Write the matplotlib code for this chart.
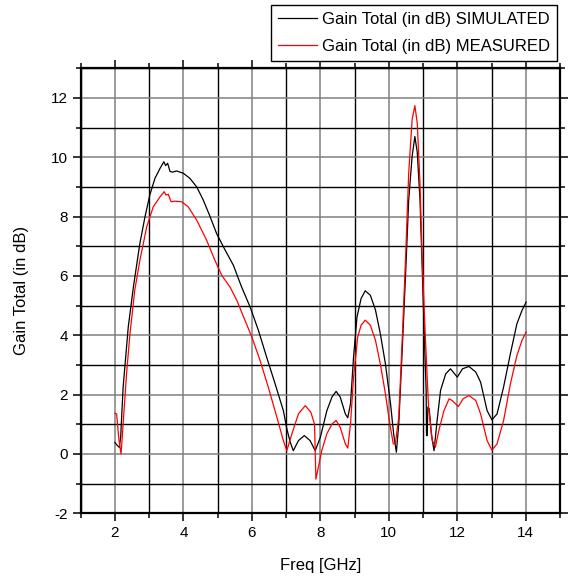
import numpy as np
import matplotlib
matplotlib.use("Agg")
import matplotlib.pyplot as plt
from matplotlib.ticker import MultipleLocator

plt.rcParams['font.family'] = ['Liberation Sans', 'DejaVu Sans']
plt.rcParams['axes.unicode_minus'] = False

# simulated gain (black)
sim_f = [2.00, 2.06, 2.13, 2.17, 2.24, 2.39, 2.54, 2.73, 2.88, 3.02, 3.17, 3.32, 3.43, 3.48,
         3.54, 3.61, 3.69, 3.80, 4.00, 4.19, 4.39, 4.58, 4.78, 4.97, 5.22, 5.46, 5.70, 5.95,
         6.19, 6.43, 6.68, 6.92, 7.02, 7.12, 7.21, 7.36, 7.53, 7.70, 7.85, 8.00, 8.19, 8.34,
         8.46, 8.58, 8.73, 8.80, 8.88, 8.97, 9.07, 9.19, 9.31, 9.46, 9.61, 9.75, 9.90, 10.05,
         10.14, 10.22, 10.29, 10.39, 10.49, 10.58, 10.68, 10.76, 10.83, 10.91, 10.97, 11.04,
         11.09, 11.10, 11.12, 11.14, 11.18, 11.24, 11.32, 11.41, 11.51, 11.66, 11.80, 12.00,
         12.15, 12.34, 12.54, 12.68, 12.87, 13.01, 13.16, 13.35, 13.55, 13.74, 13.89, 14.01]
sim_g = [0.39, 0.30, 0.22, 0.60, 2.25, 4.28, 5.63, 7.10, 8.00, 8.73, 9.29, 9.63, 9.85, 9.72,
         9.80, 9.52, 9.50, 9.54, 9.46, 9.29, 9.00, 8.56, 8.00, 7.43, 6.87, 6.36, 5.63, 4.95,
         4.17, 3.27, 2.36, 1.46, 0.85, 0.40, 0.11, 0.45, 0.62, 0.45, 0.11, 0.56, 1.46, 1.92,
         2.11, 1.92, 1.35, 1.22, 1.69, 3.27, 4.62, 5.24, 5.50, 5.35, 4.85, 4.06, 3.04, 1.69,
         0.68, 0.06, 1.01, 3.49, 6.08, 8.56, 10.03, 10.70, 10.17, 8.56, 6.42, 3.83,
         2.14, 0.62, 0.62, 1.58, 1.52, 0.68, 0.11, 1.13, 2.14, 2.70, 2.87, 2.59,
         2.87, 2.95, 2.76, 2.42, 1.46, 1.15, 1.35, 2.25, 3.38, 4.39, 4.84, 5.12]

# measured gain (red)
meas_f = [2.00, 2.05, 2.12, 2.18, 2.24, 2.34, 2.44, 2.58, 2.73, 2.93, 3.12, 3.32, 3.44, 3.49,
          3.56, 3.64, 3.75, 3.95, 4.14, 4.39, 4.68, 4.92, 5.12, 5.36, 5.56, 5.80, 6.00, 6.24,
          6.48, 6.73, 6.92, 7.02, 7.17, 7.36, 7.56, 7.72, 7.83, 7.87, 8.04, 8.19, 8.34, 8.46,
          8.58, 8.73, 8.80, 8.88, 8.97, 9.09, 9.19, 9.31, 9.46, 9.61, 9.75, 9.90, 10.03, 10.13,
          10.19, 10.29, 10.39, 10.49, 10.58, 10.68, 10.76, 10.83, 10.91, 10.97, 11.07, 11.16,
          11.27, 11.36, 11.46, 11.61, 11.76, 11.85, 12.03, 12.17, 12.34, 12.54, 12.68, 12.87,
          13.01, 13.16, 13.35, 13.55, 13.74, 13.89, 14.01]
meas_g = [1.37, 1.35, 0.45, 0.00, 1.01, 2.70, 4.05, 5.52, 6.53, 7.66, 8.33, 8.67, 8.84, 8.73,
          8.75, 8.50, 8.52, 8.50, 8.33, 7.88, 7.20, 6.53, 6.02, 5.63, 5.18, 4.50, 3.94, 3.15,
          2.25, 1.24, 0.45, 0.11, 0.68, 1.35, 1.63, 1.41, 1.01, -0.85, 0.11, 0.68, 1.01, 1.13,
          0.90, 0.34, 0.20, 1.00, 2.59, 3.94, 4.34, 4.51, 4.34, 3.83, 3.04, 2.03, 1.01, 0.34,
          0.34, 1.24, 3.83, 6.65, 9.46, 11.27, 11.74, 11.15, 9.13, 6.65, 3.83, 1.58,
          0.45, 0.23, 0.79, 1.46, 1.86, 1.80, 1.60, 1.86, 1.97, 1.80, 1.35, 0.45,
          0.13, 0.34, 1.12, 2.36, 3.32, 3.83, 4.11]

fig = plt.figure(figsize=(5.68, 5.81), dpi=100)
ax = fig.add_axes([0.142, 0.1165, 0.844, 0.766])

ax.plot(sim_f, sim_g, color='black', lw=0.9, label='Gain Total (in dB) SIMULATED')
ax.plot(meas_f, meas_g, color='red', lw=0.9, label='Gain Total (in dB) MEASURED')

ax.set_xlim(1, 15)
ax.set_ylim(-2, 13)
ax.xaxis.set_minor_locator(MultipleLocator(1))
ax.yaxis.set_minor_locator(MultipleLocator(1))
ax.set_xticks([2, 4, 6, 8, 10, 12, 14])
ax.set_yticks([-2, 0, 2, 4, 6, 8, 10, 12])

ax.set_axisbelow(True)
ax.grid(which='major', color='#808080', lw=1.1)
ax.grid(which='minor', color='black', lw=1.0)

for s in ax.spines.values():
    s.set_linewidth(1.6)

ax.tick_params(which='both', direction='out', top=True, right=True, width=1.1,
               labelsize=11, pad=3)
ax.tick_params(which='major', length=6)
ax.tick_params(which='minor', length=3.5)

ax.set_xlabel('Freq [GHz]', fontsize=12, labelpad=13)
ax.set_ylabel('Gain Total (in dB)', fontsize=12, labelpad=16)

leg = ax.legend(loc='upper right', bbox_to_anchor=(0.981, 0.992),
                bbox_transform=fig.transFigure, borderaxespad=0,
                fancybox=False, framealpha=1, edgecolor='black',
                fontsize=12, handlelength=2.3, handletextpad=0.3,
                labelspacing=0.7, borderpad=0.45)
leg.get_frame().set_linewidth(1.0)

fig.savefig('out.png', dpi=100)
